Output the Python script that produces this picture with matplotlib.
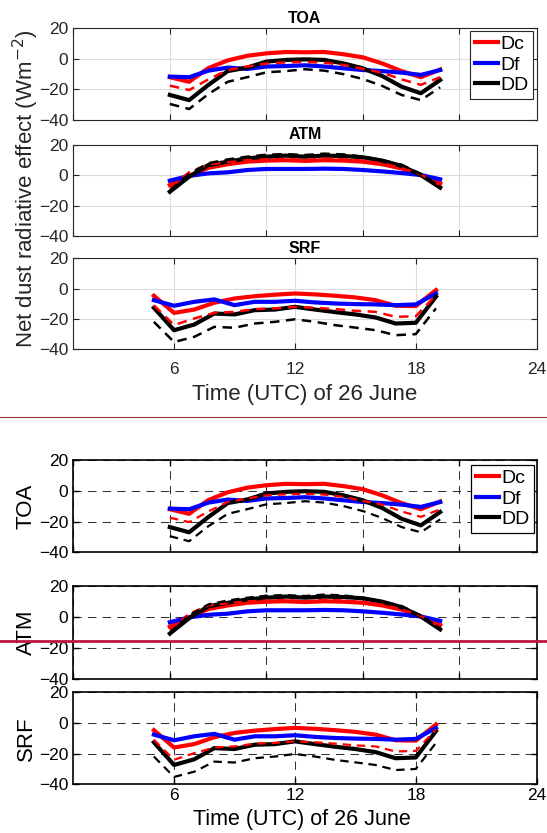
import matplotlib
matplotlib.use("Agg")
import matplotlib.pyplot as plt
from matplotlib.lines import Line2D

plt.rcParams['font.family'] = ['Liberation Sans', 'DejaVu Sans']

hours = [5, 6, 7, 8, 9, 10, 11, 12, 13, 14, 15, 16, 17, 18, 19]

# TOA
dc_toa = [-12, -15, -6, -1, 2, 3.6, 4.5, 4.3, 4.5, 3, 1, -3, -8, -12, -7]
df_toa = [-11.6, -12, -7.7, -5.7, -6.6, -5, -4.7, -4.2, -5, -6.2, -7.3, -8, -9, -10.5, -7.3]
dd_toa = [-23.6, -27, -17, -8, -5.7, -1.8, -0.7, -0.3, -0.7, -3, -6.2, -11.2, -18.2, -22.5, -13.8]
dc_toa_dash = [-17.5, -20.4, -13.4, -7.3, -5, -3, -2.3, -2, -2.5, -4, -6.6, -9, -13.4, -17, -12]
dd_toa_dash = [-29.5, -32.8, -23, -15, -12, -8.8, -8, -6.8, -7.7, -10, -13.2, -17.7, -23.6, -27, -18.6]

# ATM
dc_atm = [-6.4, -0.4, 5, 7.3, 9, 9.7, 10, 9.5, 10, 9.7, 9, 7.3, 4.6, 0.2, -5.3]
df_atm = [-3.5, -0.4, 1.3, 2, 3.5, 4.2, 4.2, 4.2, 4.4, 4.2, 3.5, 2.6, 1.5, 0.2, -2.6]
dd_atm = [-10.8, -0.9, 6.8, 9, 11.2, 12.3, 13, 12.3, 13, 12.7, 11.9, 9.7, 6.2, 0.2, -8.1]
dc_atm_dash = [-8, 2, 7.3, 8.6, 10, 10.5, 10.8, 10, 11, 10.5, 9.7, 7.9, 5, 0.6, -6.4]
dd_atm_dash = [-10, 1, 8, 10.5, 12.3, 13.6, 14, 13.4, 14.3, 13.8, 12.3, 10, 7, 1, -7.5]

# SRF
dc_srf = [-4.7, -16, -13.8, -9.3, -6.5, -5, -4, -3.2, -3.8, -4.7, -5.8, -7.6, -11.3, -11.5, -1]
df_srf = [-7.6, -11.3, -8.7, -7.1, -10.9, -8.7, -8.7, -8, -9.1, -9.8, -10.2, -10.4, -10.9, -10.4, -3.2]
dd_srf = [-12.6, -27.4, -23.7, -16.4, -17, -14.2, -13.8, -12, -13.8, -15.5, -17, -19, -23, -22.5, -5.3]
dc_srf_dash = [-11, -24, -19.7, -16, -15.3, -13.5, -13, -12, -12.6, -13.5, -14.6, -15.3, -18.6, -18.2, -4.3]
dd_srf_dash = [-21.9, -35.2, -31.8, -25.2, -25.8, -23, -21.9, -20.2, -21.9, -24.1, -25.7, -27.4, -30.7, -30, -13]

panels = ['TOA', 'ATM', 'SRF']
series = {
    'TOA': (dc_toa, df_toa, dd_toa, dc_toa_dash, dd_toa_dash),
    'ATM': (dc_atm, df_atm, dd_atm, dc_atm_dash, dd_atm_dash),
    'SRF': (dc_srf, df_srf, dd_srf, dc_srf_dash, dd_srf_dash),
}
yticks = [-40, -20, 0, 20]
upper_xticks = [0, 5, 10, 15, 20]
srf_xticks = [6, 12, 18, 24]
xlabel = 'Time (UTC) of 26 June'

W, H = 547, 833
fig = plt.figure(figsize=(W / 100, H / 100), dpi=100)


def add_ax(l, t, r, b):
    return fig.add_axes([l / W, 1 - b / H, (r - l) / W, (b - t) / H])


L, R = 73.3, 536.7
top_boxes = [(28.3, 120), (145, 236), (258.3, 349.3)]
bot_boxes = [(460, 552.3), (585.7, 679), (692.3, 784.3)]


def draw(ax, name, lw_solid, lw_dash, dash):
    dc, df, dd, dcd, ddd = series[name]
    ax.plot(hours, dc, color='#ff0000', lw=lw_solid, label='Dc', zorder=3)
    ax.plot(hours, df, color='#0000ff', lw=lw_solid, label='Df', zorder=3)
    ax.plot(hours, dd, color='black', lw=lw_solid, label='DD', zorder=3)
    ax.plot(hours, dcd, color='#ff0000', lw=lw_dash, linestyle=(0, dash), zorder=3)
    ax.plot(hours, ddd, color='black', lw=lw_dash, linestyle=(0, dash), zorder=3)


# ---------------- Upper figure (new MATLAB style) ----------------
for i, name in enumerate(panels):
    t, b = top_boxes[i]
    ax = add_ax(L, t, R, b)
    draw(ax, name, 3.0, 1.8, (3.8, 2.6))
    ax.set_ylim(-40, 20)
    ax.set_yticks(yticks)
    if name == 'SRF':
        ax.set_xlim(1, 24)
        ax.set_xticks(srf_xticks)
    else:
        ax.set_xlim(0, 24)
        ax.set_xticks(upper_xticks)
        ax.set_xticklabels([])
    ax.grid(True, color='#dcdcdc', lw=0.8, linestyle='-', zorder=0)
    ax.set_axisbelow(True)
    ax.tick_params(direction='in', length=4, width=0.8, top=True, right=True,
                   labelsize=12.5, colors='#262626')
    ax.tick_params(axis='x', pad=9)
    for s in ax.spines.values():
        s.set_color('#262626')
        s.set_linewidth(0.8)
    ax.set_title(name, fontsize=11.5, fontweight='bold', pad=4, color='black')
    if name == 'TOA':
        leg = ax.legend(loc='upper right', bbox_to_anchor=(533 / W, 1 - 30.7 / H),
                        bbox_transform=fig.transFigure, fontsize=14, handlelength=1.2,
                        handletextpad=0.1, borderpad=0.25, labelspacing=0.15,
                        borderaxespad=0, fancybox=False, framealpha=1)
        leg.get_frame().set_edgecolor('#262626')
        leg.get_frame().set_linewidth(0.8)

fig.text(26 / W, 1 - 189 / H, 'Net dust radiative effect (Wm$^{-2}$)', rotation=90,
         ha='center', va='center', fontsize=16, color='#262626')
fig.text(305 / W, 1 - 395 / H, xlabel, ha='center', va='center', fontsize=16,
         color='#262626')

# separator line between the two figures
fig.add_artist(Line2D([0, 1], [1 - 417 / H, 1 - 417 / H], transform=fig.transFigure,
                      color='#9b2a3c', lw=0.8))

# ---------------- Lower figure (old MATLAB style) ----------------
for i, name in enumerate(panels):
    t, b = bot_boxes[i]
    ax = add_ax(L, t, R, b)
    draw(ax, name, 3.0, 1.6, (3.8, 2.6))
    ax.set_ylim(-40, 20)
    ax.set_yticks(yticks)
    if name == 'SRF':
        ax.set_xlim(1, 24)
        ax.set_xticks(srf_xticks)
    else:
        ax.set_xlim(0, 24)
        ax.set_xticks(upper_xticks)
        ax.set_xticklabels([])
    ax.grid(True, color='#333333', lw=0.75, linestyle=(0, (8, 6)), zorder=0)
    ax.set_axisbelow(True)
    ax.tick_params(direction='in', length=4, width=1, top=True, right=True,
                   labelsize=12.5, colors='black')
    ax.tick_params(axis='x', pad=3)
    for s in ax.spines.values():
        s.set_color('black')
        s.set_linewidth(1.2)
    fig.text(26 / W, 1 - ((t + b) / 2) / H, name, rotation=90, ha='center',
             va='center', fontsize=16)
    if name == 'TOA':
        leg = ax.legend(loc='upper right', bbox_to_anchor=(534 / W, 1 - 464.7 / H),
                        bbox_transform=fig.transFigure, fontsize=14, handlelength=1.2,
                        handletextpad=0.1, borderpad=0.25, labelspacing=0.15,
                        borderaxespad=0, fancybox=False, framealpha=1)
        leg.get_frame().set_edgecolor('black')
        leg.get_frame().set_linewidth(0.9)

fig.text(302 / W, 1 - 820 / H, xlabel, ha='center', va='center', fontsize=15.5)

fig.add_artist(Line2D([0, 1], [1 - 641 / H, 1 - 641 / H], transform=fig.transFigure,
                      color='#c0163c', lw=2.0, zorder=10))

fig.savefig('out.png', dpi=100)
